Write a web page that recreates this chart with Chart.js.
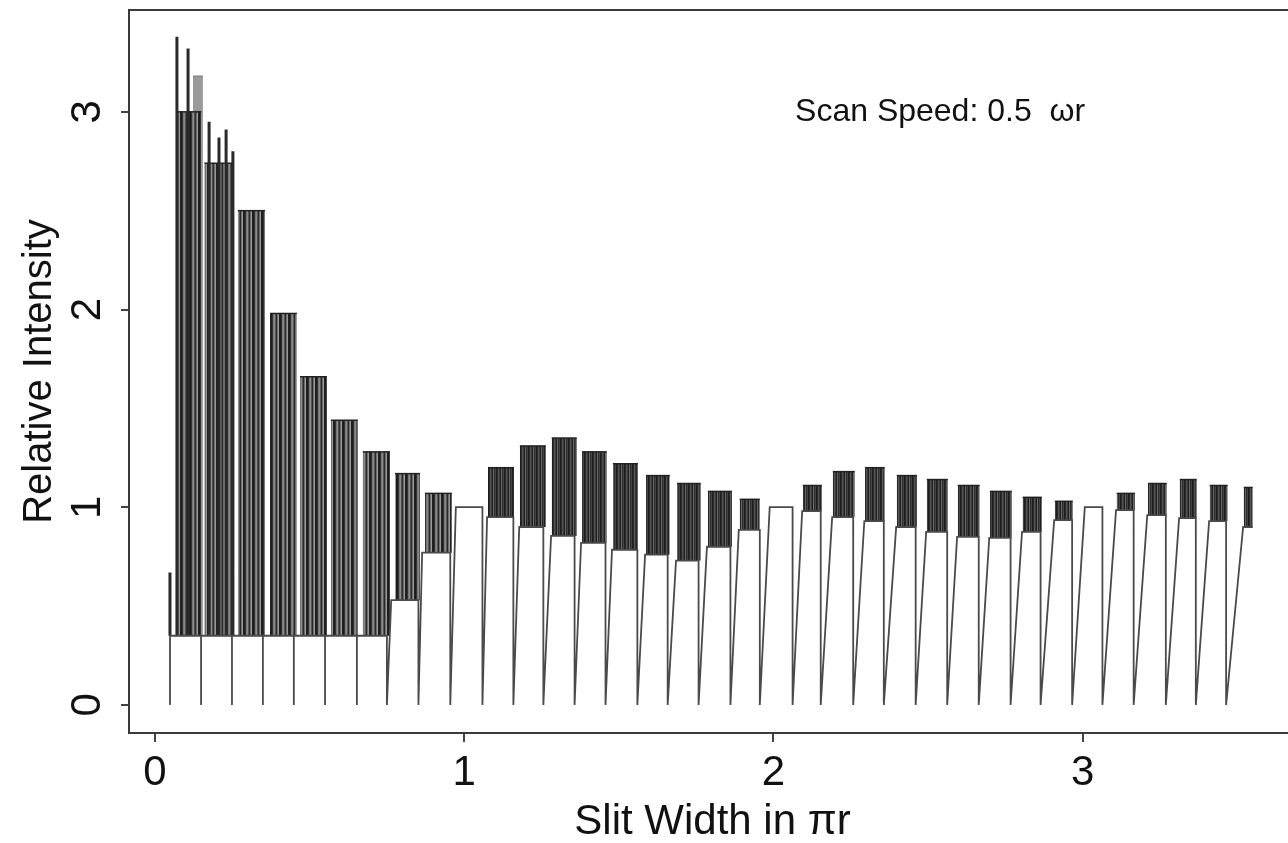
<!DOCTYPE html>
<html>
<head>
<meta charset="utf-8">
<script src="https://cdn.jsdelivr.net/npm/chart.js@4.4.0/dist/chart.umd.min.js"></script>
<style>
  html, body { margin: 0; padding: 0; background: #fff; overflow: hidden; }
  #wrap { position: relative; width: 1300px; height: 843px; }
</style>
</head>
<body>
<div id="wrap"><canvas id="chart"></canvas></div>
<script>
// Данные (x в единицах pi*r)
const firstRise = 0.0485;
const periodEnd    = [0.149, 0.249, 0.349, 0.449, 0.550, 0.653, 0.750, 0.852, 0.955, 1.059,
                      1.159, 1.256, 1.357, 1.457, 1.560, 1.658, 1.758, 1.861, 1.956, 2.062,
                      2.153, 2.258, 2.357, 2.460, 2.562, 2.664, 2.767, 2.864, 2.966, 3.064,
                      3.165, 3.269, 3.366, 3.464, 3.550];
const plateauStart = [0.0485, 0.149, 0.249, 0.349, 0.449, 0.550, 0.653, 0.764, 0.864, 0.973,
                      1.074, 1.178, 1.281, 1.378, 1.478, 1.585, 1.685, 1.785, 1.888, 1.988,
                      2.093, 2.190, 2.294, 2.397, 2.494, 2.594, 2.698, 2.804, 2.908, 3.007,
                      3.108, 3.209, 3.312, 3.409, 3.519];
const lowLevel     = [0.35, 0.35, 0.35, 0.35, 0.35, 0.35, 0.35, 0.53, 0.77, 1.00,
                      0.95, 0.90, 0.855, 0.82, 0.785, 0.76, 0.73, 0.80, 0.885, 1.00,
                      0.98, 0.95, 0.93, 0.90, 0.875, 0.85, 0.845, 0.875, 0.935, 1.00,
                      0.985, 0.96, 0.945, 0.93, 0.90];
const highLevel    = [3.00, 2.74, 2.50, 1.98, 1.66, 1.44, 1.28, 1.17, 1.07, 1.00,
                      1.20, 1.31, 1.35, 1.28, 1.22, 1.16, 1.12, 1.08, 1.04, 1.00,
                      1.11, 1.18, 1.20, 1.16, 1.14, 1.11, 1.08, 1.05, 1.03, 1.00,
                      1.07, 1.12, 1.14, 1.11, 1.10];
const bandStart    = [0.068, 0.160, 0.268, 0.372, 0.469, 0.569, 0.672, 0.776, 0.873, 0.973,
                      1.077, 1.180, 1.283, 1.381, 1.481, 1.588, 1.688, 1.788, 1.891, 1.988,
                      2.095, 2.192, 2.296, 2.399, 2.496, 2.596, 2.700, 2.806, 2.910, 3.007,
                      3.110, 3.211, 3.314, 3.411, 3.521];
const bandEnd      = [0.150, 0.250, 0.356, 0.459, 0.556, 0.656, 0.760, 0.857, 0.960, 1.060,
                      1.161, 1.264, 1.364, 1.461, 1.562, 1.665, 1.765, 1.866, 1.956, 2.066,
                      2.157, 2.263, 2.360, 2.464, 2.564, 2.667, 2.771, 2.868, 2.968, 3.065,
                      3.169, 3.272, 3.369, 3.469, 3.550];

// Отдельные высокие пики в начале
const spikeX   = [0.0485, 0.071, 0.107, 0.175, 0.207, 0.230, 0.252];
const spikeTop = [0.67, 3.38, 3.32, 2.95, 2.87, 2.91, 2.80];
const lightStart = [0.123];
const lightEnd   = [0.155];
const lightTop   = [3.18];

const xTicks = [0, 1, 2, 3];
const yTicks = [0, 1, 2, 3];
const xMin = -0.084, xMax = 3.69;
const yMin = -0.142, yMax = 3.515;

let canvas = document.getElementById('chart');
let context = canvas.getContext('2d');

const makePattern = (cols) => {
  let c = document.createElement('canvas');
  c.width = cols.length; c.height = 4;
  let g = c.getContext('2d');
  cols.forEach((col, i) => { g.fillStyle = col; g.fillRect(i, 0, 1, 4); });
  return context.createPattern(c, 'repeat');
};
const darkStripes = makePattern(['#1e1e1e', '#2a2a2a', '#555', '#3a3a3a', '#222', '#666', '#2e2e2e', '#444']);
const greyStripes = makePattern(['#222', '#1c1c1c', '#333', '#777', '#8a8a8a', '#555', '#2a2a2a', '#6e6e6e', '#999']);

// Основная линия сигнала
const trace = [];
let start = firstRise;
for (let k = 0; k < periodEnd.length; k++) {
  trace.push({x: start, y: 0});
  trace.push({x: plateauStart[k], y: lowLevel[k]});
  trace.push({x: periodEnd[k], y: lowLevel[k]});
  if (k < periodEnd.length - 1) trace.push({x: periodEnd[k], y: 0});
  start = periodEnd[k];
}

const spikes = [];
spikeX.forEach((x, i) => {
  spikes.push({x: x, y: lowLevel[0]});
  spikes.push({x: x, y: spikeTop[i]});
  spikes.push({x: x, y: null});
});

const datasets = [{
  data: trace, borderColor: '#4a4a4a', borderWidth: 1.8, pointRadius: 0, fill: false, order: 0
}, {
  data: spikes, borderColor: '#2a2a2a', borderWidth: 3, pointRadius: 0, fill: false, spanGaps: false, order: 1
}];
for (let k = 0; k < periodEnd.length; k++) {
  if (highLevel[k] <= lowLevel[k]) continue;
  datasets.push({
    data: [{x: bandStart[k], y: highLevel[k]}, {x: bandEnd[k], y: highLevel[k]}],
    fill: {value: lowLevel[k]},
    backgroundColor: k < 9 ? greyStripes : darkStripes,
    borderColor: '#222', borderWidth: 1.5, pointRadius: 0, order: 2
  });
}
lightStart.forEach((x, i) => {
  datasets.push({
    data: [{x: x, y: lightTop[i]}, {x: lightEnd[i], y: lightTop[i]}],
    fill: {value: lowLevel[0]}, backgroundColor: '#9a9a9a',
    borderColor: '#888', borderWidth: 1.5, pointRadius: 0, order: 3
  });
});

const font = {family: "'Liberation Sans', Arial, sans-serif", size: 42};

// Рамка, подписи оси Y и надпись
const decor = {
  id: 'decor',
  afterDraw(chart) {
    let c = chart.ctx, a = chart.chartArea, ys = chart.scales.y;
    c.save();
    c.strokeStyle = '#3a3a3a';
    c.lineWidth = 2;
    c.strokeRect(a.left, a.top, a.right - a.left, a.bottom - a.top);
    c.fillStyle = '#111';
    c.font = '42px ' + font.family;
    c.textAlign = 'center';
    c.textBaseline = 'middle';
    yTicks.forEach(v => {
      c.save();
      c.translate(88, ys.getPixelForValue(v));
      c.rotate(-Math.PI / 2);
      c.fillText(String(v), 0, 0);
      c.restore();
    });
    let xs = chart.scales.x;
    c.font = '32px ' + font.family;
    c.textAlign = 'left';
    c.fillText('Scan Speed: 0.5  \u03c9r', xs.getPixelForValue(2.07), ys.getPixelForValue(3.0));
    c.restore();
  }
};

let chart = new Chart(context, {
  type: 'line',
  data: {datasets: datasets},
  options: {
    responsive: true,
    maintainAspectRatio: false,
    animation: false,
    layout: {padding: {top: 10, right: 4, left: 0, bottom: 0}},
    plugins: {legend: {display: false}, tooltip: {enabled: false}},
    scales: {
      x: {
        type: 'linear', min: xMin, max: xMax,
        afterFit: (s) => { s.height = 110; },
        afterBuildTicks: (s) => { s.ticks = xTicks.map(v => ({value: v})); },
        ticks: {font: font, color: '#111', padding: 6, maxRotation: 0, callback: (v) => String(v)},
        grid: {drawOnChartArea: false, drawTicks: true, tickLength: 9, color: '#444', lineWidth: 2},
        border: {display: false},
        title: {display: true, text: 'Slit Width in \u03c0r', font: {family: font.family, size: 42, lineHeight: 1}, color: '#111', padding: {top: 0, bottom: 0}}
      },
      y: {
        type: 'linear', min: yMin, max: yMax,
        afterFit: (s) => { s.width = 129; },
        afterBuildTicks: (s) => { s.ticks = yTicks.map(v => ({value: v})); },
        ticks: {font: {size: 1}, color: 'rgba(0,0,0,0)', padding: 0},
        grid: {drawOnChartArea: false, drawTicks: true, tickLength: 8, color: '#444', lineWidth: 2},
        border: {display: false},
        title: {display: true, text: 'Relative Intensity', font: {family: font.family, size: 40, lineHeight: 1}, color: '#111', padding: {top: 20, bottom: 0}}
      }
    }
  },
  plugins: [decor]
});
</script>
</body>
</html>
